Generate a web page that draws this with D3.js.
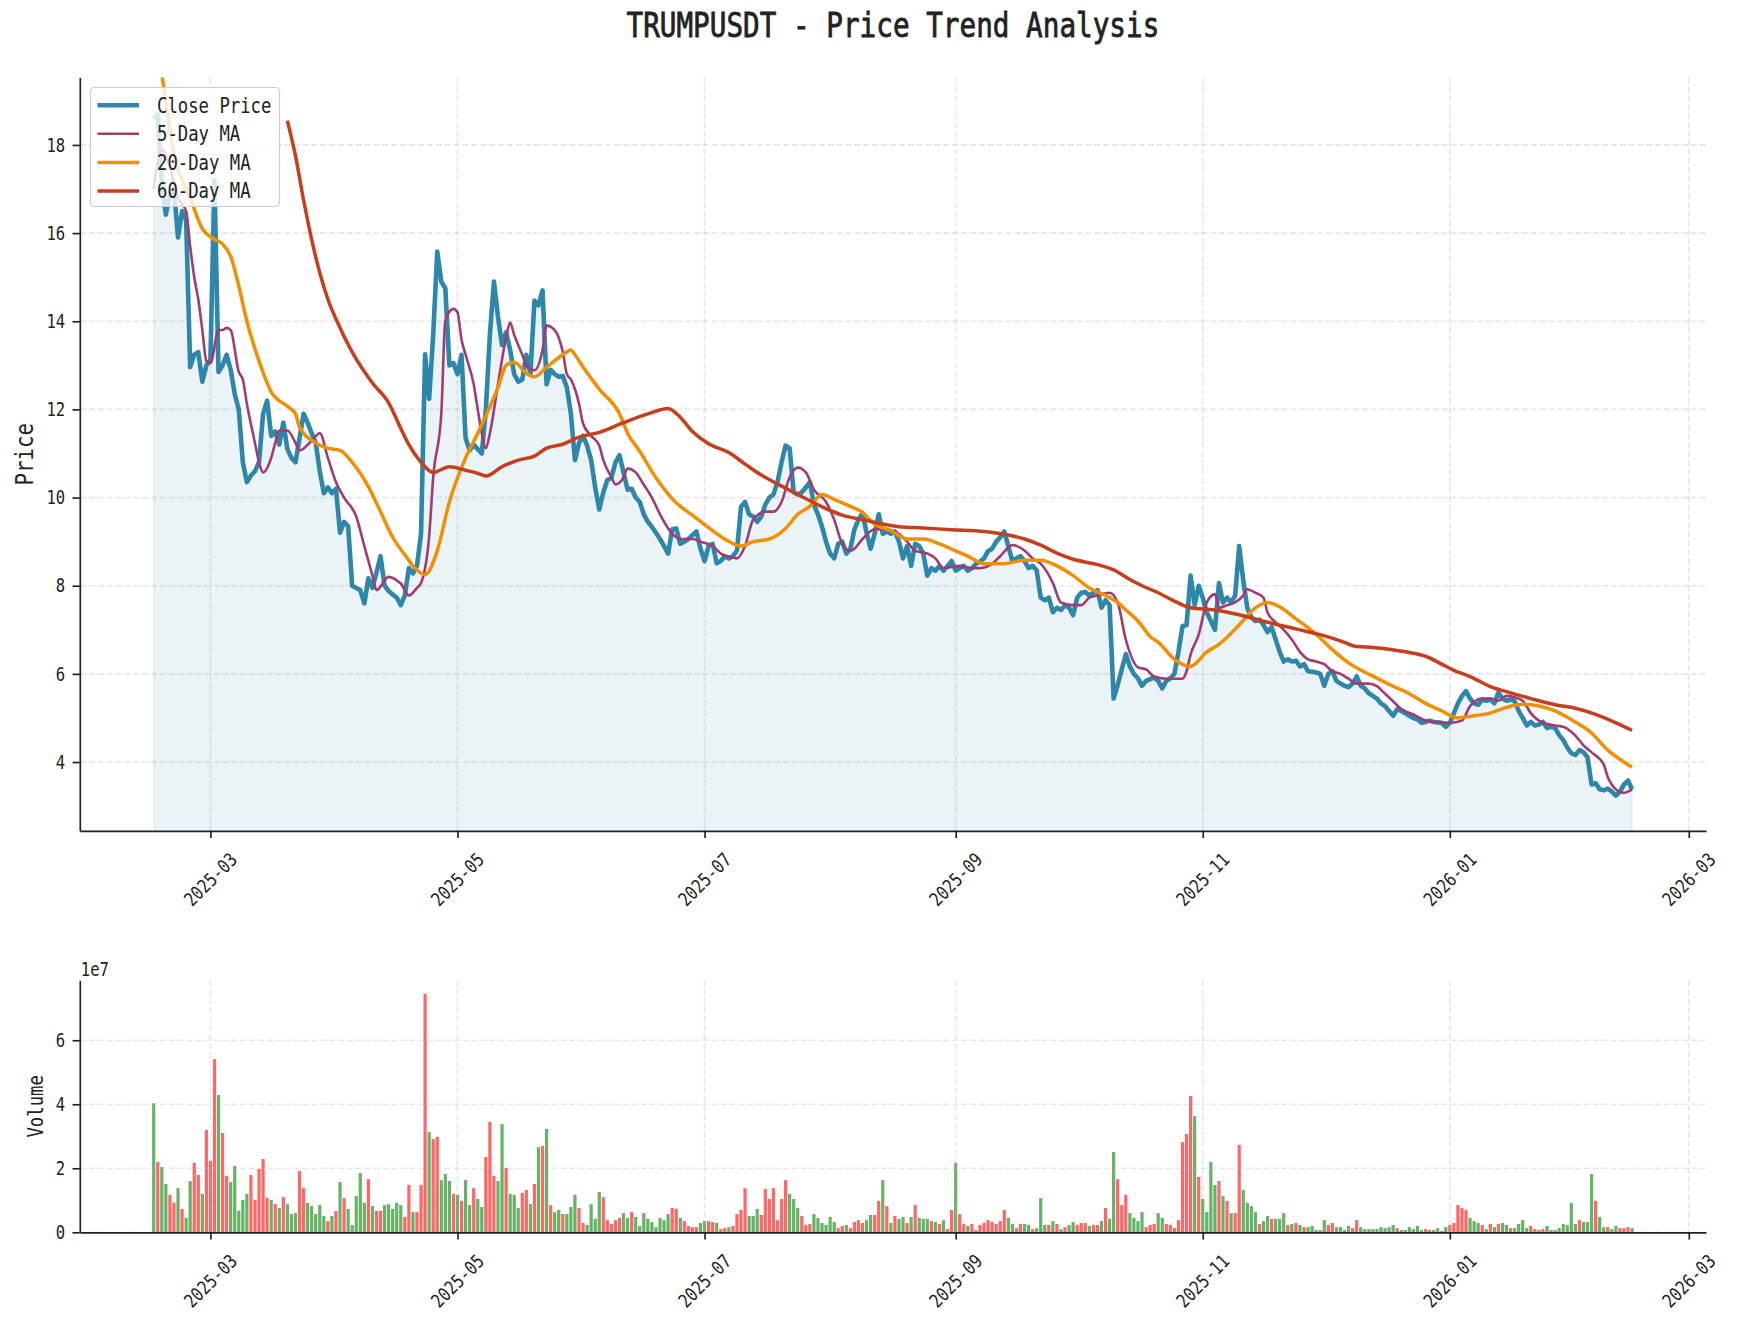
<!DOCTYPE html>
<html><head><meta charset="utf-8">
<script src="https://cdn.jsdelivr.net/npm/d3@7"></script>
<style>body{margin:0;background:#fff}</style>
</head><body><svg id="chart" width="1737" height="1327"></svg>
<script>
// ---------------- DATA ----------------
const startDate = "2025-02-15";           // first daily observation
const closePrice = [
18.60,18.70,17.10,16.42,16.90,17.00,15.90,16.50,16.30,12.96,
13.24,13.30,12.63,13.00,13.13,17.20,12.85,13.00,13.24,12.90,
12.35,12.00,10.80,10.35,10.50,10.60,10.80,11.90,12.20,11.40,
11.50,11.20,11.70,11.10,10.90,10.80,11.35,11.90,11.70,11.46,
11.24,10.60,10.10,10.23,10.10,10.20,9.20,9.45,9.35,8.00,
7.95,7.90,7.60,8.17,7.95,8.30,8.67,8.00,7.88,7.80,
7.73,7.56,7.78,8.40,8.28,8.45,9.18,13.25,12.24,13.69,
15.58,14.90,14.75,13.00,13.05,12.80,13.24,11.35,11.07,11.20,
11.10,11.00,12.00,13.70,14.90,14.10,13.46,13.75,13.35,12.80,
12.63,12.68,13.24,12.80,14.47,14.36,14.70,12.57,12.90,12.80,
12.74,12.76,12.50,11.90,10.85,11.24,11.40,11.18,10.85,10.23,
9.73,10.12,10.40,10.45,10.80,10.96,10.57,10.18,10.20,10.00,
9.90,9.62,9.45,9.34,9.20,9.06,8.90,8.73,9.28,9.30,
8.95,9.00,9.06,9.15,9.23,8.84,8.56,8.90,8.95,8.51,
8.56,8.67,8.62,8.67,8.80,9.79,9.90,9.62,9.57,9.45,
9.57,9.84,10.00,10.07,10.35,10.80,11.18,11.12,10.12,10.07,
10.12,10.23,10.35,9.84,9.62,9.34,9.00,8.73,8.62,8.95,
9.00,8.73,8.84,9.28,9.50,9.65,9.20,8.84,9.18,9.62,
9.18,9.23,9.18,9.23,9.00,8.62,8.90,8.45,8.95,8.90,
8.73,8.23,8.40,8.34,8.45,8.34,8.45,8.56,8.34,8.40,
8.45,8.34,8.40,8.50,8.55,8.62,8.79,8.84,9.00,9.10,
9.23,8.90,8.56,8.62,8.67,8.56,8.40,8.45,8.35,7.73,
7.67,7.73,7.40,7.50,7.45,7.56,7.50,7.33,7.73,7.84,
7.86,7.78,7.84,7.90,7.50,7.67,7.56,5.44,5.75,6.10,
6.45,6.17,6.00,5.90,5.73,5.84,5.88,5.92,5.84,5.67,
5.84,5.90,6.00,6.50,7.08,7.11,8.23,7.56,8.00,7.73,
7.39,7.20,7.00,8.06,7.62,7.73,7.62,7.78,8.90,8.12,
7.50,7.28,7.20,7.23,7.11,6.95,7.06,6.78,6.50,6.28,
6.33,6.28,6.30,6.17,6.22,6.06,6.05,6.03,6.00,5.73,
6.00,6.06,5.84,5.78,5.73,5.70,5.78,5.94,5.73,5.67,
5.56,5.50,5.44,5.33,5.27,5.16,5.05,5.20,5.16,5.11,
5.05,5.00,4.97,4.89,4.91,4.94,4.91,4.90,4.89,4.80,
4.89,5.11,5.33,5.50,5.61,5.44,5.33,5.30,5.42,5.39,
5.42,5.33,5.58,5.44,5.39,5.42,5.38,5.16,5.00,4.83,
4.91,4.83,4.85,4.91,4.77,4.80,4.77,4.61,4.50,4.33,
4.20,4.16,4.27,4.22,4.11,3.49,3.52,3.38,3.36,3.40,
3.33,3.24,3.33,3.49,3.58,3.38];

// daily volume, in units of 1e7
const volume1e7 = [
4.03,2.20,2.04,1.51,1.17,0.92,1.38,0.73,0.45,1.60,
2.17,1.79,1.20,3.20,2.23,5.41,4.29,3.10,1.76,1.57,
2.07,0.67,1.01,1.20,1.79,1.01,1.98,2.29,1.07,1.01,
0.88,0.76,1.10,0.88,0.57,0.60,1.91,1.38,0.92,0.82,
0.57,0.85,0.51,0.35,0.51,0.67,1.57,1.07,0.73,0.23,
1.13,1.85,0.92,1.66,0.82,0.67,0.67,0.85,0.88,0.73,
0.92,0.85,0.48,1.48,0.63,0.63,1.48,7.45,3.13,2.91,
2.98,1.63,1.82,1.60,1.20,1.17,0.98,1.63,0.85,1.38,
1.04,0.79,2.35,3.45,1.76,1.60,3.38,2.01,1.20,1.17,
0.76,1.23,1.32,0.88,1.51,2.66,2.70,3.23,0.85,0.63,
0.70,0.57,0.57,0.79,1.17,0.76,0.29,0.23,0.88,0.42,
1.26,1.10,0.38,0.26,0.38,0.45,0.60,0.45,0.63,0.48,
0.20,0.60,0.42,0.32,0.16,0.45,0.38,0.57,0.76,0.73,
0.45,0.35,0.20,0.16,0.16,0.29,0.35,0.35,0.32,0.29,
0.10,0.13,0.16,0.20,0.57,0.70,1.38,0.51,0.51,0.73,
0.54,1.35,1.04,1.38,0.38,1.04,1.63,1.20,1.04,0.76,
0.51,0.23,0.26,0.57,0.45,0.29,0.23,0.48,0.32,0.13,
0.20,0.23,0.13,0.32,0.38,0.29,0.38,0.54,0.54,0.98,
1.63,0.82,0.29,0.51,0.42,0.48,0.29,0.48,0.85,0.45,
0.42,0.42,0.35,0.32,0.26,0.38,0.10,0.70,2.17,0.57,
0.26,0.20,0.26,0.07,0.23,0.29,0.38,0.32,0.26,0.35,
0.70,0.45,0.26,0.13,0.26,0.26,0.23,0.10,0.13,1.07,
0.23,0.23,0.35,0.26,0.10,0.16,0.23,0.32,0.23,0.29,
0.29,0.20,0.23,0.23,0.35,0.76,0.42,2.51,1.66,0.85,
1.17,0.60,0.45,0.35,0.63,0.16,0.23,0.26,0.60,0.45,
0.26,0.23,0.13,0.38,2.82,3.07,4.26,3.63,1.73,1.04,
0.63,2.20,1.48,1.60,1.13,0.98,0.60,0.60,2.73,1.32,
0.92,0.82,0.63,0.26,0.35,0.51,0.42,0.42,0.42,0.60,
0.23,0.26,0.29,0.23,0.16,0.16,0.20,0.07,0.07,0.38,
0.23,0.29,0.16,0.16,0.07,0.20,0.13,0.38,0.16,0.10,
0.10,0.10,0.10,0.16,0.13,0.16,0.23,0.13,0.07,0.07,
0.16,0.10,0.20,0.07,0.10,0.07,0.07,0.13,0.04,0.16,
0.23,0.29,0.85,0.76,0.70,0.45,0.35,0.29,0.23,0.10,
0.26,0.16,0.26,0.29,0.23,0.13,0.13,0.26,0.38,0.13,
0.20,0.10,0.07,0.10,0.20,0.07,0.07,0.13,0.26,0.23,
0.92,0.26,0.38,0.32,0.32,1.82,0.98,0.48,0.16,0.16,
0.10,0.20,0.13,0.13,0.16,0.13];

// day direction of each volume bar: R = up day, G = down day
const volumeDirection =
"GRGGRRGRGG"+"RRGRRRGRRG"+"GGGGRRRRRG"+"RGRGGGRRGG"+"GGGRGRGRGG"+
"GGGRGRRGGG"+"GGRRGRRRGR"+"RGGGRGRGGR"+"GGRRRGGRGG"+"GRRGRGRGRG"+
"GRGGGRRGGG"+"GRRRRRGGRG"+"GGGGGGGGRR"+"GRRRRGGRRG"+"RRGRRRRGGG"+
"RRRRRRRGGG"+"RRRGGGGGGR"+"RGRRRRGGRR"+"GRGRGGRGRG"+"GGRGRGRRGR"+
"RGRRRRRRRR"+"RGGRRGGRGG"+"GRGRGRGGRR"+"RGRRGRGGRR"+"RGGGGRRRGG"+
"RRRRRRRGRG"+"GGGRGRGRRG"+"GGGRGGRGGG"+"RGRGRGGGGG"+"RRGGGGRRGG"+
"GGGGGGGRGG"+"GGGGRRGGGG"+"RRRRRGGGRG"+"RGRGGRGGGG"+"RGRRGRGGGG"+
"GGRGGGRGGR"+"GGRRRG";

// moving averages: [day index, value]
const ma5 = [[0,17.0],[1,17.6],[2,17.9],[4,17.5],[6,16.8],[8,16.5],[9,15.7],[10,15.0],[11,14.5],[12,13.8],[13,13.1],[14,13.05],[16,13.8],[17,13.8],[18,13.85],[19,13.8],[21,12.85],[22,12.68],[23,12.13],[25,11.24],[26,10.8],[27,10.57],[29,10.9],[30,11.24],[31,11.52],[33,11.52],[35,11.24],[36,11.07],[39,11.29],[41,11.46],[43,10.9],[45,10.35],[47,10.0],[50,9.57],[52,8.9],[54,8.23],[55,7.9],[58,8.2],[60,8.12],[61,8.05],[63,7.78],[65,7.95],[66,8.06],[68,9.12],[69,10.46],[71,11.9],[72,14.02],[74,14.28],[75,14.2],[76,13.58],[77,13.24],[79,12.57],[80,12.0],[81,11.46],[82,11.12],[83,11.46],[85,12.57],[87,13.63],[88,13.97],[89,13.69],[91,13.24],[92,13.0],[94,12.89],[96,13.35],[97,13.9],[99,13.8],[101,13.3],[102,12.8],[103,12.68],[105,12.13],[106,11.68],[108,11.4],[110,11.18],[111,10.85],[113,10.46],[114,10.3],[116,10.46],[117,10.66],[119,10.57],[121,10.29],[123,10.0],[125,9.62],[128,9.18],[130,9.06],[133,9.06],[135,9.0],[138,8.9],[140,8.73],[143,8.64],[144,8.62],[146,8.9],[148,9.5],[151,9.68],[153,9.68],[155,9.9],[157,10.46],[159,10.68],[161,10.57],[163,10.18],[166,9.9],[168,9.5],[170,8.95],[172,8.79],[173,8.84],[175,9.06],[178,9.28],[180,9.28],[183,9.23],[186,9.0],[188,8.79],[191,8.73],[193,8.62],[195,8.4],[199,8.45],[202,8.4],[204,8.4],[207,8.5],[209,8.67],[212,8.92],[215,8.8],[217,8.62],[219,8.5],[222,8.06],[224,7.62],[227,7.56],[229,7.56],[231,7.73],[233,7.78],[236,7.84],[238,7.62],[240,6.78],[243,6.15],[245,6.1],[247,5.94],[250,5.89],[252,5.89],[254,5.89],[255,6.06],[256,6.44],[258,6.89],[260,7.62],[262,7.81],[263,7.5],[265,7.56],[267,7.62],[269,7.78],[270,7.92],[272,7.84],[274,7.73],[275,7.39],[277,7.17],[279,7.0],[281,6.78],[283,6.5],[285,6.33],[287,6.28],[289,6.22],[291,6.06],[293,6.0],[295,5.89],[297,5.78],[300,5.78],[302,5.72],[304,5.55],[306,5.38],[308,5.2],[311,5.08],[314,4.94],[317,4.9],[320,4.89],[323,4.94],[325,5.27],[328,5.44],[330,5.44],[332,5.39],[334,5.5],[336,5.47],[338,5.39],[340,5.11],[343,4.89],[346,4.83],[348,4.8],[351,4.6],[353,4.38],[355,4.22],[358,3.94],[359,3.66],[361,3.38],[363,3.3],[364,3.33],[365,3.38]];

const ma20 = [[0,20.8],[2,19.6],[5,17.8],[9,16.8],[12,16.1],[15,15.86],[17,15.75],[19,15.47],[21,14.8],[23,14.0],[26,13.1],[29,12.4],[33,12.07],[35,11.9],[36,11.6],[40,11.24],[43,11.12],[46,11.07],[49,10.8],[53,10.25],[56,9.68],[59,9.1],[62,8.7],[64,8.45],[67,8.25],[70,8.79],[73,9.9],[77,10.9],[80,11.46],[82,11.85],[85,12.5],[87,13.0],[89,13.07],[92,12.82],[94,12.74],[97,12.96],[101,13.24],[103,13.35],[104,13.24],[106,12.96],[110,12.46],[115,11.9],[117,11.46],[120,11.05],[124,10.45],[129,9.88],[133,9.6],[137,9.32],[141,9.06],[145,8.9],[148,9.0],[152,9.06],[156,9.3],[159,9.62],[162,9.8],[165,10.07],[168,9.96],[171,9.84],[175,9.66],[178,9.4],[182,9.25],[186,9.06],[190,9.06],[194,8.95],[198,8.79],[201,8.67],[205,8.5],[210,8.5],[215,8.58],[219,8.58],[223,8.45],[227,8.23],[231,7.95],[235,7.78],[238,7.62],[240,7.45],[243,7.2],[246,6.85],[248,6.72],[252,6.33],[256,6.17],[260,6.5],[263,6.67],[268,7.11],[272,7.5],[275,7.62],[278,7.52],[282,7.25],[287,6.9],[291,6.55],[295,6.25],[301,5.95],[306,5.72],[310,5.55],[314,5.33],[318,5.16],[322,5.0],[326,5.05],[330,5.11],[334,5.24],[338,5.31],[342,5.27],[346,5.16],[350,4.96],[355,4.66],[359,4.27],[363,4.0],[365,3.88]];

const ma60 = [[33,18.55],[35,17.75],[37,16.75],[39,15.85],[41,15.1],[43,14.5],[45,14.05],[49,13.3],[54,12.6],[58,12.15],[61,11.57],[63,11.2],[66,10.8],[69,10.57],[73,10.7],[77,10.62],[80,10.55],[82,10.49],[86,10.7],[90,10.85],[94,10.94],[97,11.12],[101,11.21],[105,11.37],[110,11.48],[116,11.7],[122,11.9],[127,12.02],[130,11.82],[133,11.5],[137,11.22],[142,11.02],[146,10.76],[150,10.51],[155,10.26],[159,10.07],[163,9.88],[166,9.75],[170,9.6],[176,9.48],[180,9.4],[184,9.34],[190,9.31],[197,9.27],[205,9.23],[211,9.15],[215,9.06],[219,8.92],[223,8.74],[227,8.6],[233,8.48],[237,8.36],[241,8.14],[244,8.0],[248,7.84],[252,7.65],[256,7.5],[262,7.45],[268,7.34],[275,7.17],[282,7.02],[288,6.89],[293,6.75],[297,6.62],[301,6.6],[305,6.56],[309,6.5],[314,6.4],[318,6.22],[321,6.08],[325,5.94],[330,5.71],[335,5.57],[340,5.44],[346,5.3],[351,5.22],[356,5.08],[361,4.89],[365,4.72]];

const seriesNames = ["Close Price", "5-Day MA", "20-Day MA", "60-Day MA"];
const priceTicks = [4, 6, 8, 10, 12, 14, 16, 18];
const volumeTicks = [0, 2, 4, 6];            // in units of 1e7
const xTickLabels = ["2025-03","2025-05","2025-07","2025-09","2025-11","2026-01","2026-03"];
const titleText = "TRUMPUSDT - Price Trend Analysis";

// ---------------- STYLE / LAYOUT ----------------
const W = 1737, H = 1327;
const P = {left: 79.8, right: 1706, top: 77.5, bottom: 830.8};
const V = {left: 79.8, right: 1706, top: 980.4, bottom: 1232.3};
const C = {close: "#2E86AB", ma5: "#A23B72", ma20: "#F18F01", ma60: "#C73E1D",
           up: "#FF6666", down: "#66B266", axis: "#222222", grid: "#b0b0b0"};
const LW = {close: 4.6, ma5: 2.6, ma20: 3.5, ma60: 3.5};
const FONT = "'DejaVu Sans Mono', monospace";
const TICK_LEN = 7.3, PAD = 7.3;

const svg = d3.select("#chart");
svg.append("rect").attr("width", W).attr("height", H).attr("fill", "#fff");

function label(sel, str, fs) {
  return sel.append("text").text(str)
    .attr("font-family", FONT).attr("font-size", fs)
    .attr("textLength", str.length * 0.5 * fs)
    .attr("lengthAdjust", "spacingAndGlyphs")
    .attr("fill", C.axis);
}

// ---------------- SCALES ----------------
const parse = d3.utcParse("%Y-%m-%d");
const t0 = parse(startDate);
const dates = closePrice.map((_, i) => d3.utcDay.offset(t0, i));
const span = dates[dates.length - 1] - dates[0];
const x = d3.scaleUtc()
  .domain([new Date(+dates[0] - 0.05 * span), new Date(+dates[dates.length - 1] + 0.05 * span)])
  .range([P.left, P.right]);
const y = d3.scaleLinear().domain([2.44, 19.53]).range([P.bottom, P.top]);
const yv = d3.scaleLinear().domain([0, 7.87]).range([V.bottom, V.top]);
const xTickDates = xTickLabels.map(s => parse(s + "-01"));
const dayX = d => x(d3.utcDay.offset(t0, d));

// clip
const defs = svg.append("defs");
defs.append("clipPath").attr("id", "clipP").append("rect")
  .attr("x", P.left).attr("y", P.top).attr("width", P.right - P.left).attr("height", P.bottom - P.top);
defs.append("clipPath").attr("id", "clipV").append("rect")
  .attr("x", V.left).attr("y", V.top).attr("width", V.right - V.left).attr("height", V.bottom - V.top);

// ---------------- PRICE PANEL ----------------
const gP = svg.append("g");
const plotP = gP.append("g").attr("clip-path", "url(#clipP)");

// fill under close
plotP.append("path").datum(closePrice)
  .attr("d", d3.area().x((d, i) => x(dates[i])).y0(y(0)).y1(d => y(d)))
  .attr("fill", C.close).attr("fill-opacity", 0.1)
  .attr("stroke", C.close).attr("stroke-opacity", 0.1).attr("stroke-width", 1.5);

// grid
function grid(g, box, yScale, yVals) {
  const gg = g.append("g").attr("stroke", C.grid).attr("stroke-opacity", 0.3)
    .attr("stroke-width", 1.67).attr("stroke-dasharray", "6.2,2.7");
  gg.selectAll("line.v").data(xTickDates).join("line")
    .attr("x1", d => x(d)).attr("x2", d => x(d)).attr("y1", box.top).attr("y2", box.bottom);
  gg.selectAll("line.h").data(yVals).join("line")
    .attr("x1", box.left).attr("x2", box.right).attr("y1", d => yScale(d)).attr("y2", d => yScale(d));
}
grid(plotP, P, y, priceTicks);

const lineClose = d3.line().x((d, i) => x(dates[i])).y(d => y(d));
plotP.append("path").datum(closePrice).attr("d", lineClose)
  .attr("fill", "none").attr("stroke", C.close).attr("stroke-width", LW.close).attr("stroke-linejoin", "round");
const maLine = d3.line().curve(d3.curveMonotoneX).x(d => dayX(d[0])).y(d => y(d[1]));
[[ma5, C.ma5, LW.ma5], [ma20, C.ma20, LW.ma20], [ma60, C.ma60, LW.ma60]].forEach(([data, col, w]) => {
  plotP.append("path").datum(data).attr("d", maLine)
    .attr("fill", "none").attr("stroke", col).attr("stroke-width", w).attr("stroke-linejoin", "round");
});

// axes
function styleAxis(g) {
  g.attr("color", C.axis);
  g.select(".domain").attr("stroke-width", 1.67);
  g.selectAll(".tick line").attr("stroke-width", 1.67);
}
const axL = gP.append("g").attr("transform", `translate(${P.left},0)`)
  .call(d3.axisLeft(y).tickValues(priceTicks).tickSize(TICK_LEN).tickSizeOuter(0).tickFormat(() => ""));
styleAxis(axL);
axL.selectAll(".tick text").remove();
priceTicks.forEach(v => {
  label(gP, String(v), 18.75).attr("x", P.left - TICK_LEN - PAD).attr("y", y(v))
    .attr("dy", "0.36em").attr("text-anchor", "end");
});

function xAxis(g, box) {
  const ax = g.append("g").attr("transform", `translate(0,${box.bottom})`)
    .call(d3.axisBottom(x).tickValues(xTickDates).tickSize(TICK_LEN).tickSizeOuter(0).tickFormat(() => ""));
  styleAxis(ax);
  ax.selectAll(".tick text").remove();
  xTickDates.forEach((d, i) => {
    label(g, xTickLabels[i], 18.75).attr("text-anchor", "middle").attr("dy", "0.36em")
      .attr("transform", `translate(${x(d)},${box.bottom + 48.5}) rotate(-45)`);
  });
}
xAxis(gP, P);

label(gP, "Price", 25).attr("text-anchor", "middle")
  .attr("transform", `translate(33.2,${(P.top + P.bottom) / 2}) rotate(-90)`);

// legend
const lg = gP.append("g");
lg.append("rect").attr("x", 90.5).attr("y", 87.5).attr("width", 189).attr("height", 119).attr("rx", 4)
  .attr("fill", "#fff").attr("fill-opacity", 0.8).attr("stroke", "#cccccc").attr("stroke-width", 1.2);
const legendStyle = [[C.close, LW.close], [C.ma5, LW.ma5], [C.ma20, LW.ma20], [C.ma60, LW.ma60]];
seriesNames.forEach((name, i) => {
  const ry = 105.2 + i * 28.6;
  lg.append("line").attr("x1", 97.5).attr("x2", 139).attr("y1", ry).attr("y2", ry)
    .attr("stroke", legendStyle[i][0]).attr("stroke-width", legendStyle[i][1]);
  label(lg, name, 20.8).attr("x", 157).attr("y", ry).attr("dy", "0.36em");
});

// title
label(svg, titleText, 33.3).attr("x", (P.left + P.right) / 2).attr("y", 36.6)
  .attr("text-anchor", "middle").attr("stroke", C.axis).attr("stroke-width", 0.8);

// ---------------- VOLUME PANEL ----------------
const gV = svg.append("g");
const plotV = gV.append("g").attr("clip-path", "url(#clipV)");
const barW = x(d3.utcHour.offset(t0, 0.8 * 24)) - x(t0);
plotV.selectAll("rect.bar").data(volume1e7).join("rect")
  .attr("x", (d, i) => x(dates[i]) - barW / 2).attr("width", barW)
  .attr("y", d => yv(d)).attr("height", d => yv(0) - yv(d))
  .attr("fill", (d, i) => volumeDirection[i] === "R" ? C.up : C.down);
grid(plotV, V, yv, volumeTicks);

const axLV = gV.append("g").attr("transform", `translate(${V.left},0)`)
  .call(d3.axisLeft(yv).tickValues(volumeTicks).tickSize(TICK_LEN).tickSizeOuter(0).tickFormat(() => ""));
styleAxis(axLV);
axLV.selectAll(".tick text").remove();
volumeTicks.forEach(v => {
  label(gV, String(v), 18.75).attr("x", V.left - TICK_LEN - PAD).attr("y", yv(v))
    .attr("dy", "0.36em").attr("text-anchor", "end");
});
xAxis(gV, V);
label(gV, "1e7", 18.75).attr("x", V.left + 1).attr("y", V.top - 4.5);
label(gV, "Volume", 20.8).attr("text-anchor", "middle")
  .attr("transform", `translate(43,${(V.top + V.bottom) / 2}) rotate(-90)`);
</script>
</body></html>
